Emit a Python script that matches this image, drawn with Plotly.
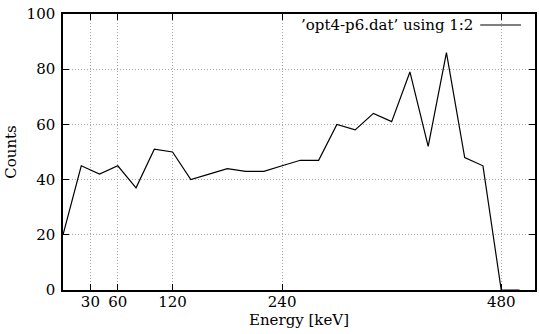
import plotly.graph_objects as go

energy = [0, 20, 40, 60, 80, 100, 120, 140, 160, 180, 200, 220, 240,
          260, 280, 300, 320, 340, 360, 380, 400, 420, 440, 460, 480, 500]
counts = [20, 45, 42, 45, 37, 51, 50, 40, 42, 44, 43, 43, 45,
          47, 47, 60, 58, 64, 61, 79, 52, 86, 48, 45, 0, 0]
x_ticks = [30, 60, 120, 240, 480]
y_ticks = [0, 20, 40, 60, 80, 100]
series_name = "\u2019opt4-p6.dat\u2019 using 1:2"

FONT = "DejaVu Serif"
FS = 15
W, H = 539, 334
L, R, T, B = 63, 2, 14, 44
pw, ph = W - L - R, H - T - B

fig = go.Figure()
fig.add_trace(go.Scatter(x=energy, y=counts, mode="lines",
                         line=dict(color="black", width=1.2),
                         name=series_name, showlegend=False))

axis_common = dict(
    showline=True, linecolor="black", linewidth=1.5, mirror="ticks",
    ticks="inside", ticklen=6, tickcolor="black", tickwidth=1,
    showgrid=True, gridcolor="#a8a8a8", griddash="1px,2px", gridwidth=1,
    zeroline=False, tickfont=dict(family=FONT, size=FS, color="black"),
)

fig.update_xaxes(range=[0, 517], tickmode="array", tickvals=x_ticks,
                 ticktext=[str(v) for v in x_ticks],
                 title=dict(text="Energy [keV]", standoff=2,
                            font=dict(family=FONT, size=FS, color="black")),
                 ticklabelstandoff=-3, **axis_common)
fig.update_yaxes(range=[0, 100], tickmode="array", tickvals=y_ticks,
                 ticktext=[str(v) for v in y_ticks],
                 title=dict(text="Counts", standoff=6,
                            font=dict(family=FONT, size=FS, color="black")),
                 ticklabelstandoff=3, **axis_common)

# gnuplot-style key: text then line sample
ky = (H - B - 25) / ph
fig.add_annotation(xref="paper", yref="paper", x=(477 - L) / pw, y=ky,
                   xanchor="right", yanchor="middle", showarrow=False,
                   text=series_name,
                   font=dict(family=FONT, size=FS, color="black"))
fig.add_shape(type="line", xref="paper", yref="paper",
              x0=(482 - L) / pw, x1=(523 - L) / pw, y0=ky, y1=ky,
              line=dict(color="black", width=1.2))

fig.update_layout(width=W, height=H,
                  margin=dict(l=L, r=R, t=T, b=B),
                  paper_bgcolor="white", plot_bgcolor="white",
                  font=dict(family=FONT, color="black"))
fig.write_html("out.html")
